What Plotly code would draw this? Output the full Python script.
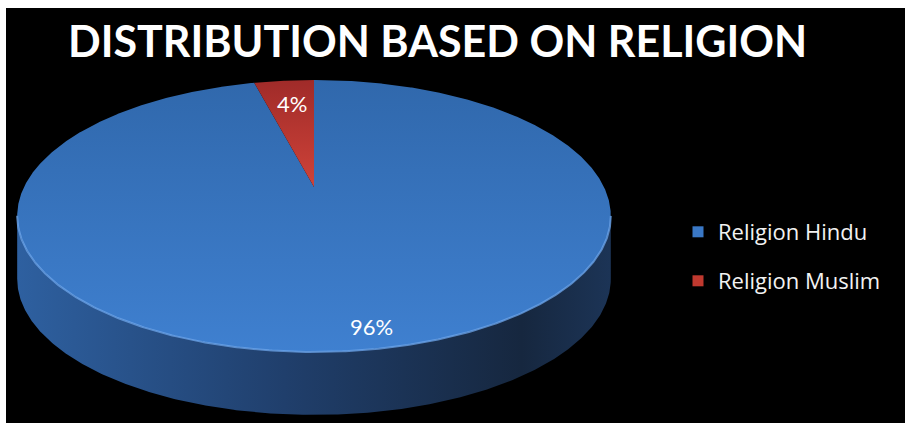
import numpy as np
import plotly.graph_objects as go

# ---------------- data ----------------
categories = ["Religion Hindu", "Religion Muslim"]
values = [96, 4]
labels = ["96%", "4%"]
title_text = "DISTRIBUTION BASED ON RELIGION"

# ---------------- style / geometry ----------------
W, H = 905, 423
cx, cy = 314, 187          # projected pie centre (pixels)
RX, RY = 290, 129.8        # radii of the tilted disc
K = 0.213                  # perspective strength
THICK = 63                 # disc thickness on screen

top_colors = [
    [[0, "#3f80d0"], [1, "#3068ac"]],
    [[0, "#cf4339"], [1, "#a02b29"]],
]
side_scale = [[0, "#2e60a0"], [0.45, "#203f6c"], [0.85, "#16273f"], [1, "#1c3456"]]
legend_colors = ["#3a78c6", "#c0392f"]


def proj(theta_deg, r=1.0, dy=0.0):
    t = np.radians(theta_deg)
    u = r * np.sin(t)
    v = r * np.cos(t)
    d = 1 + K * v
    return cx + RX * u / d, cy - RY * v / d + dy


fig = go.Figure()

# ---- side of the cylinder (visible front part) ----
th = np.linspace(0, 360, 1441)
tx, ty = proj(th)
i_left = int(np.argmin(tx))
i_right = int(np.argmax(tx))
a_r, a_l = th[i_right], th[i_left]
arc = np.linspace(a_r, a_l, 400)          # passes through the near side (180 deg)
sx1, sy1 = proj(arc)
sx2, sy2 = proj(arc[::-1], dy=THICK)
fig.add_trace(go.Scatter(
    x=np.concatenate([sx1, sx2, sx1[:1]]),
    y=np.concatenate([sy1, sy2, sy1[:1]]),
    mode="lines", line=dict(width=0), fill="toself",
    fillgradient=dict(type="horizontal", colorscale=side_scale),
    hoverinfo="skip", showlegend=False))

# ---- top faces of the slices ----
total = sum(values)
start = 0.0
mids = []
for i, v in enumerate(values):
    span = 360.0 * v / total
    a = np.linspace(start, start + span, max(int(span * 4), 8))
    px, py = proj(a)
    fig.add_trace(go.Scatter(
        x=np.concatenate([[cx], px, [cx]]),
        y=np.concatenate([[cy], py, [cy]]),
        mode="lines", line=dict(width=0), fill="toself",
        fillgradient=dict(type="vertical", colorscale=top_colors[i]),
        hoverinfo="skip", showlegend=False))
    mids.append(start + span / 2)
    start += span

# ---- front rim highlight ----
rim = np.linspace(a_r, a_l, 300)
rx_, ry_ = proj(rim)
fig.add_trace(go.Scatter(x=rx_, y=ry_, mode="lines",
                         line=dict(color="rgba(110,165,235,0.75)", width=2),
                         hoverinfo="skip", showlegend=False))

# ---- data labels ----
label_r = [0.88, 0.75]
label_dx = [18, 2]
for i, lab in enumerate(labels):
    lx, ly = proj(mids[i], r=label_r[i])
    fig.add_annotation(x=lx, y=ly, text=lab, showarrow=False, xshift=label_dx[i],
                       font=dict(family="Lato", size=22, color="white"))

# ---- legend entries ----
for i, name in enumerate(categories):
    fig.add_trace(go.Scatter(
        x=[None], y=[None], mode="markers", name=name,
        marker=dict(symbol="square", size=11, color=legend_colors[i]),
        legend="legend" if i == 0 else "legend2"))

leg_common = dict(font=dict(family="Open Sans", size=22, color="#f2f2f2"),
                  bgcolor="rgba(0,0,0,0)", xanchor="left", yanchor="middle",
                  itemclick=False, itemdoubleclick=False)

# ---- white frame strips ----
fig.add_shape(type="rect", x0=0, x1=6, y0=0, y1=H, line=dict(width=0),
              fillcolor="white", layer="above")
fig.add_shape(type="rect", x0=0, x1=W, y0=0, y1=8, line=dict(width=0),
              fillcolor="white", layer="above")

fig.add_annotation(x=437, y=40, text="<b>" + title_text + "</b>", showarrow=False,
                   font=dict(family="Lato", size=43, color="white"))

fig.update_layout(
    width=W, height=H,
    margin=dict(l=0, r=0, t=0, b=0),
    paper_bgcolor="black", plot_bgcolor="black",
    xaxis=dict(range=[0, W], visible=False, fixedrange=True, domain=[0, 1]),
    yaxis=dict(range=[H, 0], visible=False, fixedrange=True, domain=[0, 1]),
    legend=dict(x=678 / W, y=1 - 232 / H, **leg_common),
    legend2=dict(x=678 / W, y=1 - 281 / H, **leg_common),
    showlegend=True,
)

fig.write_html("out.html",
               config={"displayModeBar": False, "staticPlot": False},
               post_script="document.body.style.margin='0px';"
                           "document.body.style.overflow='hidden';")
